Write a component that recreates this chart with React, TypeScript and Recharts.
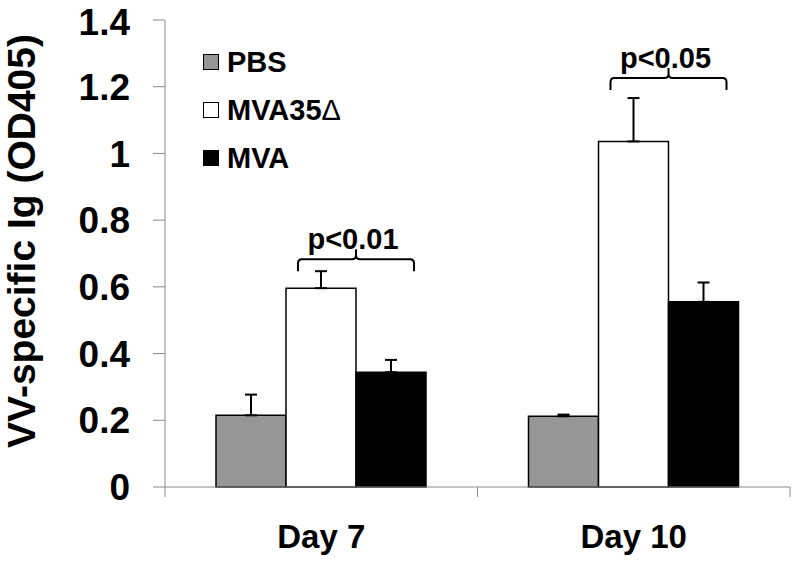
import { BarChart, Bar, XAxis, YAxis, Legend, ErrorBar, LabelList } from 'recharts';

// values
const categories = ['Day 7', 'Day 10'];
const pbs = [0.215, 0.212];
const pbsErr = [0.062, 0.005];
const mva35 = [0.596, 1.036];
const mva35Err = [0.051, 0.13];
const mva = [0.344, 0.555];
const mvaErr = [0.037, 0.058];
const yTicks = [0, 0.2, 0.4, 0.6, 0.8, 1, 1.2, 1.4];
const pLabels = ['p<0.01', 'p<0.05'];
const bracketLevels = [0.683, 1.226];
const seriesNames = ['PBS', 'MVA35Δ', 'MVA'];

const FONT = '"Liberation Sans", Arial, sans-serif';
const AXIS = '#8a8a8a';
const FILLS = ['#969696', '#ffffff', '#000000'];

const data = categories.map((c, i) => ({
  day: c,
  pbs: pbs[i],
  pbsErr: [0, pbsErr[i]],
  mva35: mva35[i],
  mva35Err: [0, mva35Err[i]],
  mva: mva[i],
  mvaErr: [0, mvaErr[i]],
}));

function XTick(props: any) {
  const { x, y, payload } = props;
  const off = payload.offset || 0;
  return (
    <g>
      <line x1={x - off} y1={y} x2={x - off} y2={y + 10} stroke={AXIS} />
      <line x1={x + off} y1={y} x2={x + off} y2={y + 10} stroke={AXIS} />
      <text x={x} y={y + 61} textAnchor="middle" fontSize={33} fontWeight="bold" fontFamily={FONT} fill="#000">
        {payload.value}
      </text>
    </g>
  );
}

function Bracket(props: any) {
  const vb = props.viewBox ?? props;
  const x = vb.x ?? props.x;
  const y = vb.y ?? props.y;
  const w = vb.width ?? props.width;
  const h = vb.height ?? props.height;
  const i = mva35.indexOf(props.value);
  if (i < 0) return null;
  const pxPerUnit = h / mva35[i];
  const base = y + h;
  const hy = base - bracketLevels[i] * pxPerUnit;
  const cx = x + w;
  const left = cx - 58;
  const right = cx + 58;
  const r = 4;
  const d =
    `M${left},${hy + 12} L${left},${hy + r} Q${left},${hy} ${left + r},${hy} ` +
    `L${cx - r},${hy} Q${cx},${hy} ${cx},${hy - r} L${cx},${hy - 10} ` +
    `M${cx},${hy - r} Q${cx},${hy} ${cx + r},${hy} ` +
    `L${right - r},${hy} Q${right},${hy} ${right},${hy + r} L${right},${hy + 12}`;
  return (
    <g>
      <path d={d} fill="none" stroke="#000" strokeWidth={2} />
      <text x={cx - 3} y={hy - 10} textAnchor="middle" fontSize={29} fontWeight="bold" fontFamily={FONT} fill="#000">
        {pLabels[i]}
      </text>
    </g>
  );
}

function LegendBox() {
  return (
    <div style={{ fontFamily: FONT }}>
      {seriesNames.map((n, i) => (
        <div key={n} style={{ display: 'flex', alignItems: 'center', height: 48 }}>
          <span
            style={{
              display: 'inline-block',
              width: 14,
              height: 14,
              background: FILLS[i],
              border: '1px solid #000',
              marginRight: 8,
            }}
          />
          <span style={{ fontSize: 29, fontWeight: 'bold', color: '#000', lineHeight: '48px' }}>
            {n === 'MVA35Δ' ? (
              <>
                MVA35<span style={{ fontWeight: 'normal' }}>Δ</span>
              </>
            ) : (
              n
            )}
          </span>
        </div>
      ))}
    </div>
  );
}

function YLabel(props: any) {
  const cy = 241;
  return (
    <text
      x={35}
      y={cy}
      transform={`rotate(-90, 35, ${cy})`}
      textAnchor="middle"
      fontSize={39}
      fontWeight="bold"
      fontFamily={FONT}
      fill="#000"
    >
      VV-specific Ig (OD405)
    </text>
  );
}

export default function App() {
  return (
    <div style={{ position: 'absolute', left: 0, top: 0, width: 800, height: 563, background: '#fff' }}>
      <BarChart
        width={800}
        height={563}
        data={data}
        margin={{ top: 20, right: 10, bottom: 0, left: 0 }}
        barGap={0}
        barCategoryGap={51}
      >
        <XAxis
          dataKey="day"
          height={76}
          stroke={AXIS}
          tickLine={false}
          tickSize={0}
          tickMargin={0}
          tick={<XTick />}
          interval={0}
        />
        <YAxis
          width={165}
          domain={[0, 1.4]}
          ticks={yTicks}
          stroke={AXIS}
          tickSize={12}
          tickMargin={23}
          tick={{ fontSize: 37, fontWeight: 'bold', fill: '#000', fontFamily: FONT }}
          label={<YLabel />}
        />
        <Legend
          layout="vertical"
          align="center"
          verticalAlign="middle"
          content={<LegendBox />}
          wrapperStyle={{ top: 38, left: 203, width: 'auto' }}
        />
        <Bar dataKey="pbs" name="PBS" fill={FILLS[0]} stroke="#000" strokeWidth={1.5} isAnimationActive={false}>
          <ErrorBar dataKey="pbsErr" direction="y" width={6} stroke="#000" strokeWidth={2} isAnimationActive={false} />
        </Bar>
        <Bar dataKey="mva35" name="MVA35Δ" fill={FILLS[1]} stroke="#000" strokeWidth={1.5} isAnimationActive={false}>
          <ErrorBar dataKey="mva35Err" direction="y" width={6} stroke="#000" strokeWidth={2} isAnimationActive={false} />
          <LabelList dataKey="mva35" content={<Bracket />} />
        </Bar>
        <Bar dataKey="mva" name="MVA" fill={FILLS[2]} stroke="#000" strokeWidth={1.5} isAnimationActive={false}>
          <ErrorBar dataKey="mvaErr" direction="y" width={6} stroke="#000" strokeWidth={2} isAnimationActive={false} />
        </Bar>
      </BarChart>
    </div>
  );
}
